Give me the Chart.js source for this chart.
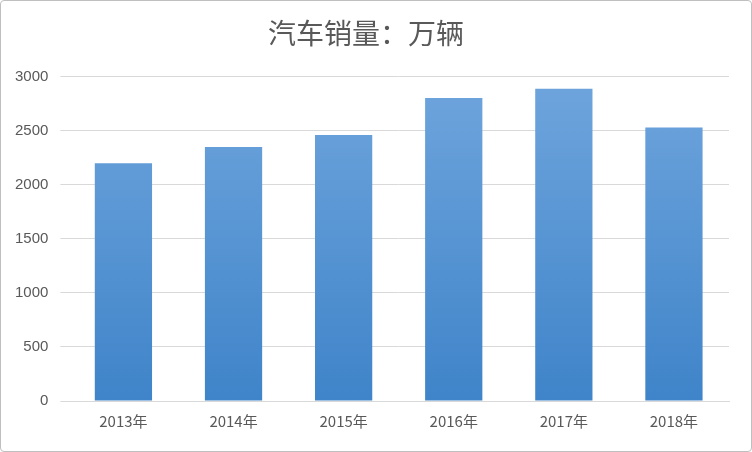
<!DOCTYPE html>
<html><head><meta charset="utf-8">
<script src="https://cdn.jsdelivr.net/npm/chart.js@4"></script>
<style>
html,body{margin:0;padding:0;background:#fff;}
#wrap{position:absolute;left:0;top:0;width:750px;height:450px;border:1px solid #bfbfbf;border-radius:4px;}
</style></head><body>
<div id="wrap"><canvas id="c" width="750" height="450"></canvas></div>
<script>
// 数据
const categorias = ["2013年", "2014年", "2015年", "2016年", "2017年", "2018年"];
const ventas = [2198, 2349, 2460, 2803, 2888, 2530];
const ticksY = [0, 500, 1000, 1500, 2000, 2500, 3000];

const ctx = document.getElementById('c').getContext('2d');

function gradiente(context) {
  const area = context.chart.chartArea;
  if (!area) return '#5b9bd5';
  const g = context.chart.ctx.createLinearGradient(0, area.top, 0, area.bottom);
  g.addColorStop(0, '#6fa5dd');
  g.addColorStop(1, '#3f84c9');
  return g;
}

new Chart(ctx, {
  type: 'bar',
  data: {
    labels: categorias,
    datasets: [{ data: ventas, backgroundColor: gradiente, categoryPercentage: 1, barPercentage: 0.52 }]
  },
  options: {
    responsive: false,
    animation: false,
    layout: { padding: { left: 2, right: 22, top: 12, bottom: 18 } },
    plugins: {
      legend: { display: false },
      tooltip: { enabled: false },
      title: {
        display: true, text: '汽车销量：万辆', color: '#595959',
        font: { family: 'Noto Sans CJK SC', size: 28, weight: 'normal' }, padding: { top: 4, bottom: 26 }
      }
    },
    scales: {
      x: {
        grid: { display: false },
        border: { color: '#d9d9d9' },
        ticks: { color: '#595959', font: { family: 'Noto Sans CJK SC', size: 15 } }
      },
      y: {
        min: 0, max: 3000,
        afterBuildTicks: axis => { axis.ticks = ticksY.map(v => ({ value: v })); },
        grid: { color: '#d9d9d9' },
        border: { display: false },
        ticks: { color: '#595959', padding: 12, font: { family: 'Liberation Sans', size: 15 }, callback: v => String(v) }
      }
    }
  }
});
</script>
</body></html>
